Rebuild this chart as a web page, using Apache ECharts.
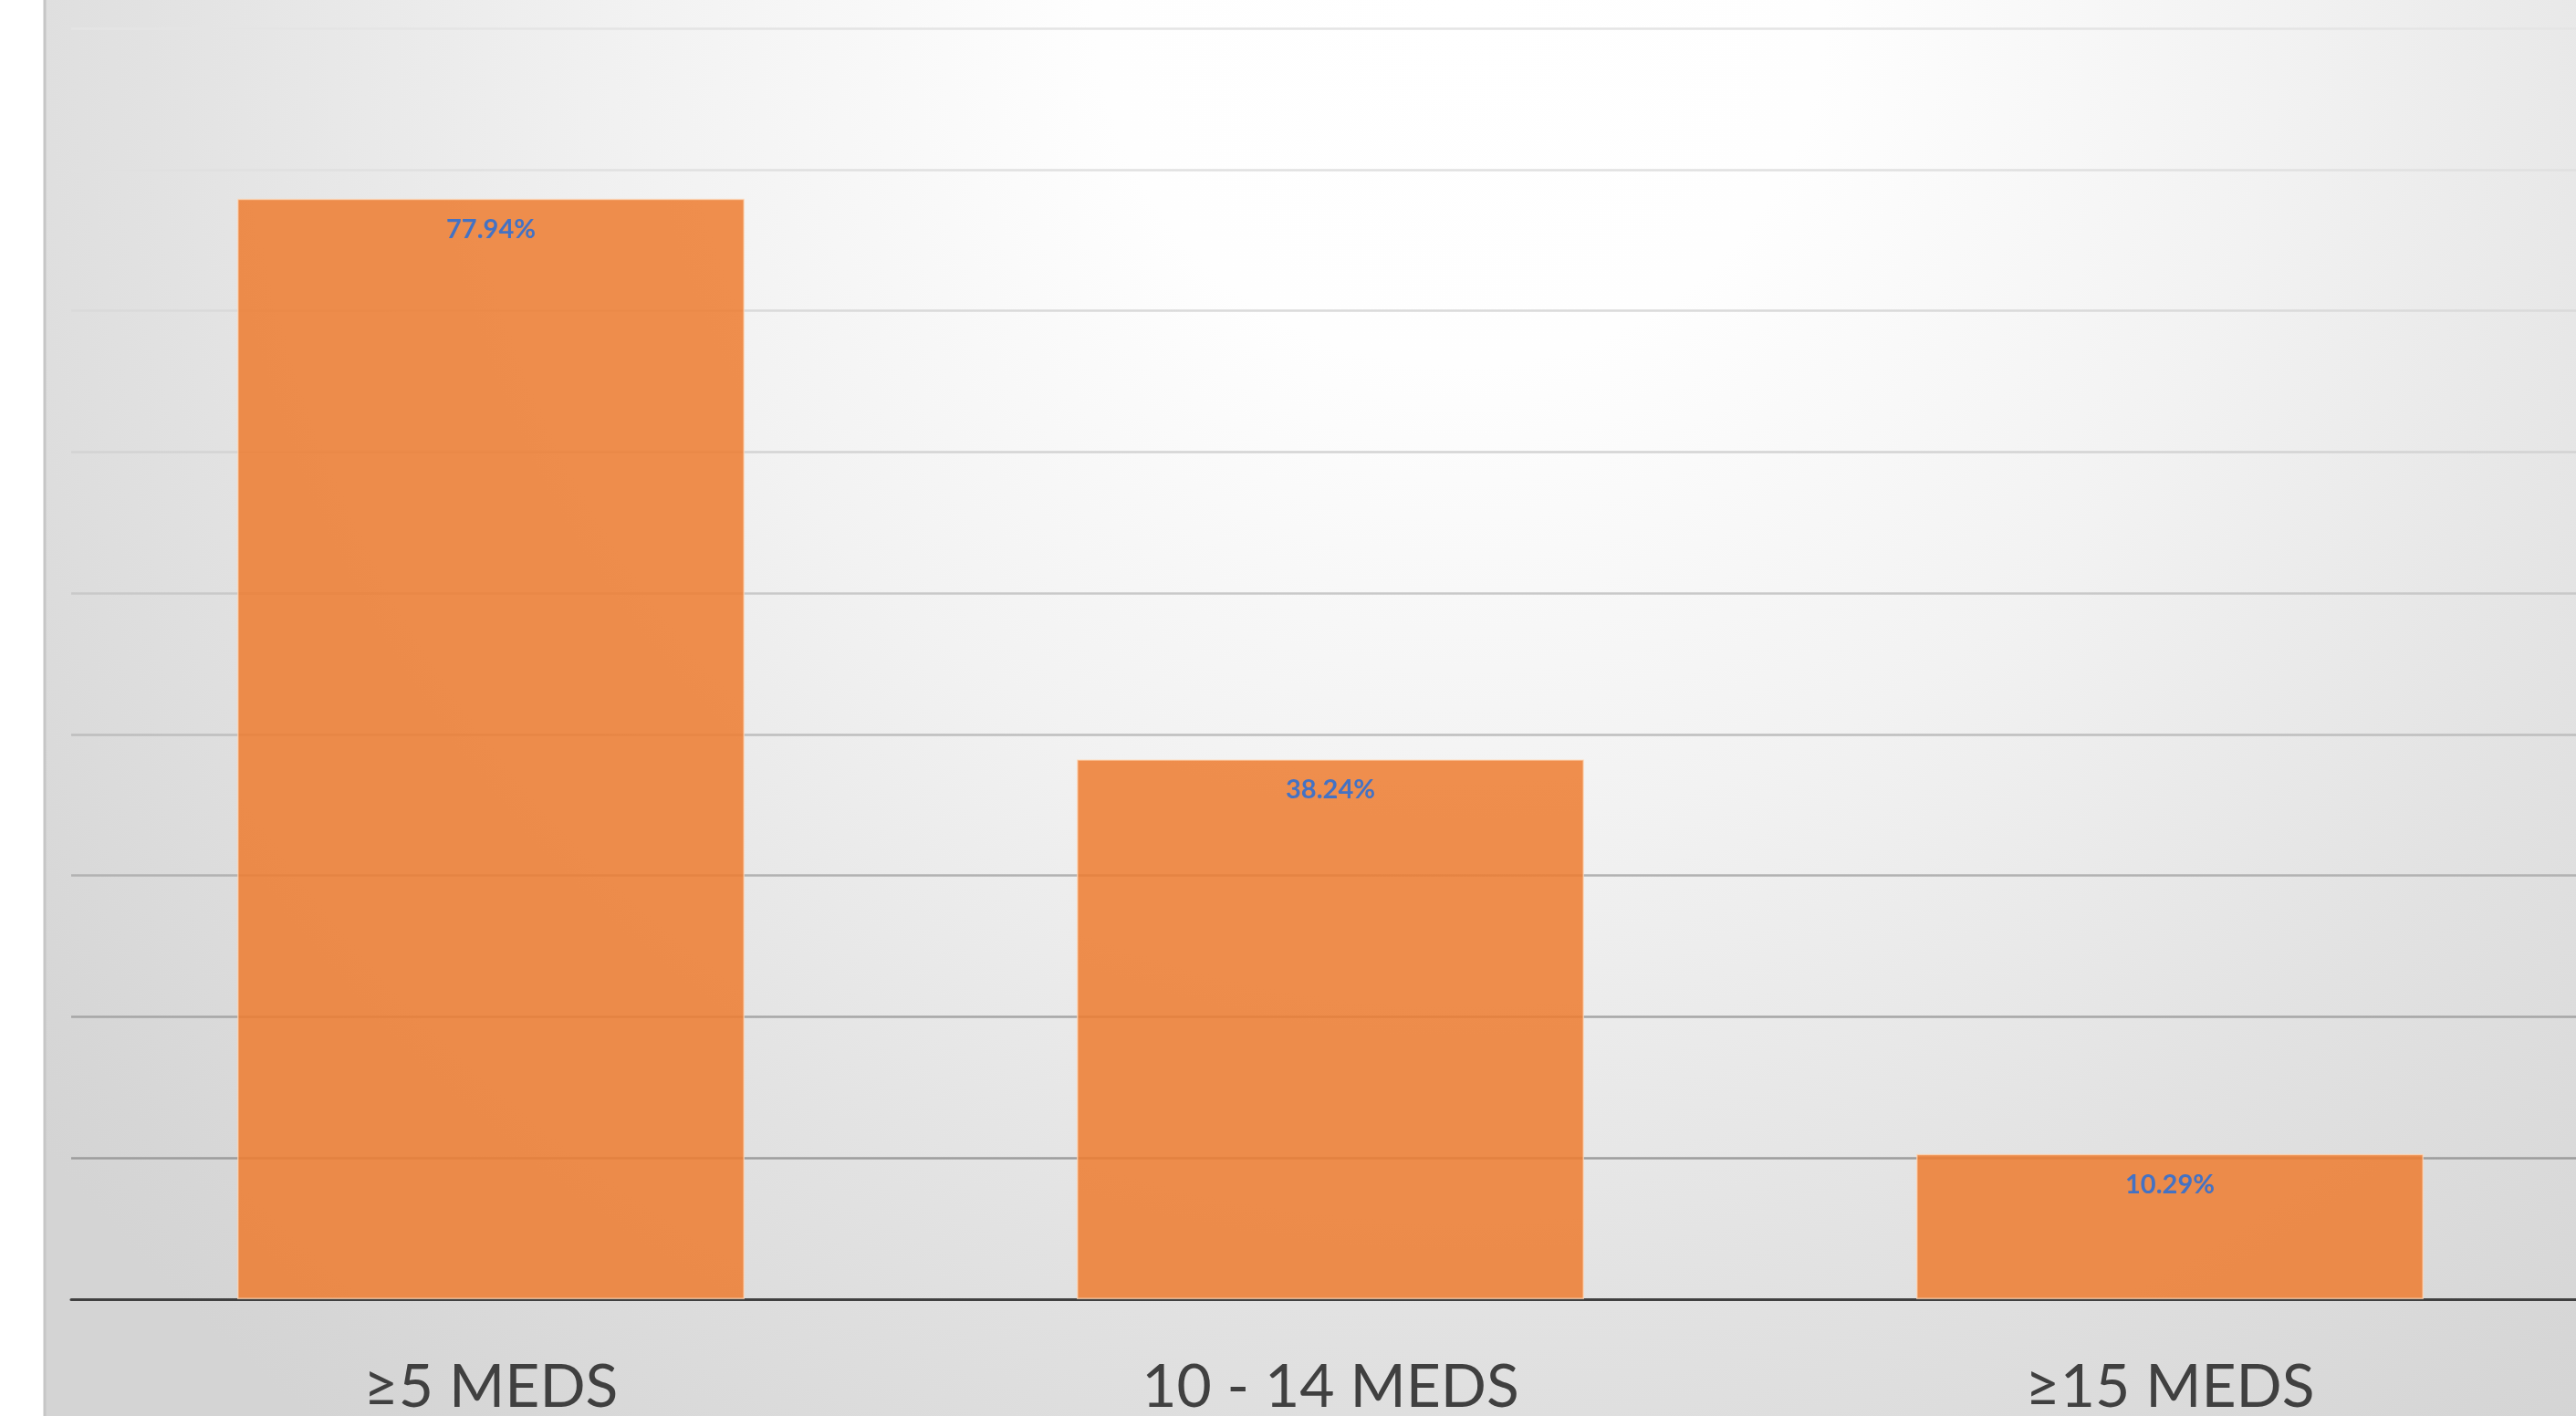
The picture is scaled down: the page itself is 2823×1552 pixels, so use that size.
<!DOCTYPE html>
<html>
<head>
<meta charset="utf-8">
<script src="https://cdn.jsdelivr.net/npm/echarts@6/dist/echarts.min.js"></script>
<style>
html,body{margin:0;padding:0;background:#ffffff;}
#chart{width:2823px;height:1552px;}
</style>
</head>
<body>
<div id="chart"></div>
<script>
const categories = ['≥5 MEDS', '10 - 14 MEDS', '≥15 MEDS'];
const percentValues = [77.94, 38.24, 10.29];
const gridColors = ['#9a9a9a', '#9c9c9c', '#a6a6a6', '#b2b2b2', '#bebebe', '#c9c9c9', '#d3d3d3', '#dadada', '#e0e0e0', '#e4e4e4'];

const chart = echarts.init(document.getElementById('chart'));
chart.setOption({
  animation: false,
  backgroundColor: '#ffffff',
  graphic: [
    {
      type: 'rect', z: -10, silent: true,
      shape: { x: 49, y: 0, width: 2774, height: 1552 },
      style: {
        fill: new echarts.graphic.RadialGradient(1600, 0, 2000, [
          { offset: 0, color: '#ffffff' },
          { offset: 0.2, color: '#fefefe' },
          { offset: 0.45, color: '#f2f2f2' },
          { offset: 0.72, color: '#e2e2e2' },
          { offset: 0.95, color: '#d6d6d6' },
          { offset: 1, color: '#d4d4d4' }
        ], true)
      }
    },
    {
      type: 'line', z: -9, silent: true,
      shape: { x1: 49, y1: 0, x2: 49, y2: 1552 },
      style: { stroke: '#c6c6c6', lineWidth: 3 }
    }
  ],
  grid: { left: 78, top: 31, width: 2760, height: 1393, containLabel: false, outerBoundsMode: 'none' },
  xAxis: {
    type: 'category',
    data: categories,
    axisTick: { show: false },
    axisLine: { show: true, lineStyle: { color: '#404040', width: 3 } },
    axisLabel: {
      color: '#404040',
      fontFamily: 'Lato',
      fontSize: 66,
      margin: 64,
      interval: 0
    },
    splitLine: { show: false }
  },
  yAxis: {
    type: 'value',
    min: 0, max: 90, interval: 10,
    axisLabel: { show: false },
    axisLine: { show: false },
    axisTick: { show: false },
    splitLine: { show: true, lineStyle: { color: gridColors, width: 2.5 } }
  },
  series: [{
    type: 'bar',
    data: percentValues,
    barWidth: 556,
    itemStyle: {
      color: 'rgba(237,125,49,0.86)',
      borderColor: 'rgba(255,220,190,0.7)',
      borderWidth: 1.5
    },
    label: {
      show: true,
      position: 'insideTop',
      distance: 19,
      formatter: function (p) { return p.value.toFixed(2) + '%'; },
      color: '#4472C4',
      fontFamily: 'Lato',
      fontWeight: 'bold',
      fontSize: 29
    }
  }]
});
</script>
</body>
</html>
